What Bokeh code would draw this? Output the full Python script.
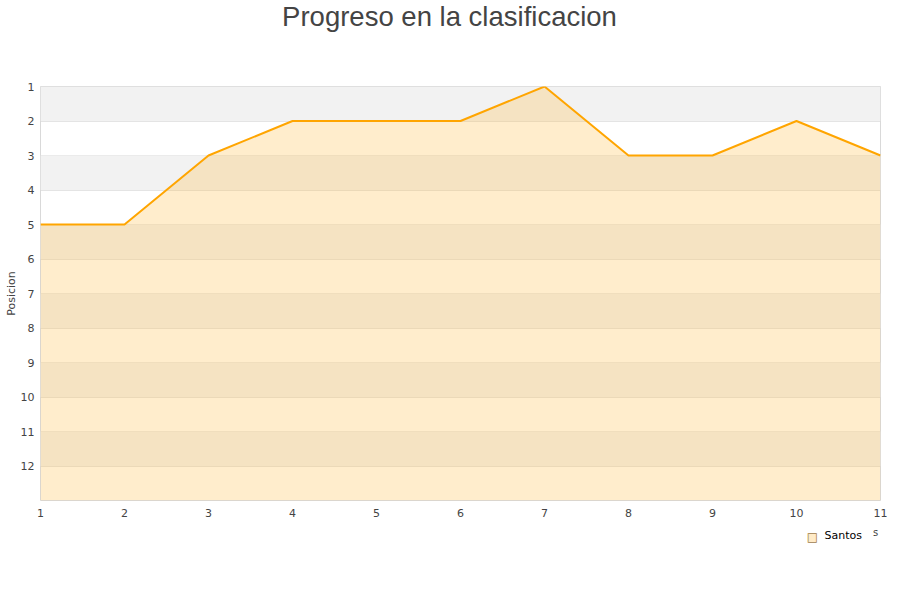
from bokeh.plotting import figure
from bokeh.models import Range1d, FixedTicker, BoxAnnotation, Label
from bokeh.embed import file_html
from bokeh.resources import INLINE

jornadas = [1, 2, 3, 4, 5, 6, 7, 8, 9, 10, 11]
posiciones = [5, 5, 3, 2, 2, 2, 1, 3, 3, 2, 3]
y_ticks = list(range(1, 13))
x_ticks = list(range(1, 12))
team = "Santos"
title_text = "Progreso en la clasificacion"
y_label = "Posicion"

FL, FR, FT, FB = 40, 880, 86, 500  # frame edges on the canvas

p = figure(width=900, height=600, output_backend="svg", toolbar_location=None,
           x_range=Range1d(1, 11), y_range=Range1d(13, 1),
           min_border_left=FL, min_border_right=900 - FR, min_border_top=FT,
           min_border_bottom=600 - FB)

p.outline_line_color = "#d9d9d9"
p.background_fill_color = "white"

for k in range(1, 13, 2):
    p.add_layout(BoxAnnotation(bottom=k, top=k + 1, fill_color="#f2f2f2", fill_alpha=1.0,
                               line_color=None, level="underlay"))

p.varea(x=jornadas, y1=posiciones, y2=[13] * len(jornadas), fill_color="#ffb833", fill_alpha=0.25)
p.line(x=jornadas, y=posiciones, line_color="#ffa500", line_width=2)

p.xgrid.visible = False
p.ygrid.ticker = FixedTicker(ticks=y_ticks)
p.ygrid.grid_line_color = "#dddddd"
p.ygrid.grid_line_alpha = 0.8
p.ygrid.level = "underlay"

for ax in (p.xaxis[0], p.yaxis[0]):
    ax.axis_line_color = None
    ax.major_tick_line_color = None
    ax.minor_tick_line_color = None
    ax.major_tick_out = 0
    ax.major_tick_in = 0
    ax.minor_tick_out = 0
    ax.major_label_text_font = "DejaVu Sans"
    ax.major_label_text_font_size = "11px"
    ax.major_label_text_color = "#444444"

p.xaxis.ticker = FixedTicker(ticks=x_ticks)
p.yaxis.ticker = FixedTicker(ticks=y_ticks)
p.xaxis.major_label_standoff = 8
p.yaxis.major_label_standoff = 6
p.yaxis.axis_label = y_label
p.yaxis.axis_label_text_font = "DejaVu Sans"
p.yaxis.axis_label_text_font_size = "11px"
p.yaxis.axis_label_text_font_style = "normal"
p.yaxis.axis_label_text_color = "#444444"
p.yaxis.axis_label_standoff = 0


def panel_label(x, y, text, **kw):
    return Label(x=x, y=y, x_units="screen", y_units="screen", text=text,
                 text_baseline="middle", **kw)


# title in the panel above the plot area
p.add_layout(panel_label(409, 70, title_text, text_font="Liberation Sans",
                         text_font_size="27.5px", text_color="#444444",
                         text_align="center"), "above")

# legend, drawn by hand in the panel below the x axis (each label stacks in its own slot)
p.add_layout(panel_label(772, -3, "\u25a0", text_font="DejaVu Sans", text_font_size="12px",
                         text_color="#ffebc8", text_align="center"), "below")
p.add_layout(panel_label(772, 11, "\u25a1", text_font="DejaVu Sans", text_font_size="12px",
                         text_color="#a08050", text_align="center"), "below")
p.add_layout(panel_label(784, 25, team, text_font="DejaVu Sans", text_font_size="11px",
                         text_color="#000000", text_align="left"), "below")
p.add_layout(panel_label(835, 39, "s", text_font="DejaVu Sans", text_font_size="10px",
                         text_color="#444444", text_align="center"), "below")

open("out.html", "w").write(file_html(p, INLINE))
